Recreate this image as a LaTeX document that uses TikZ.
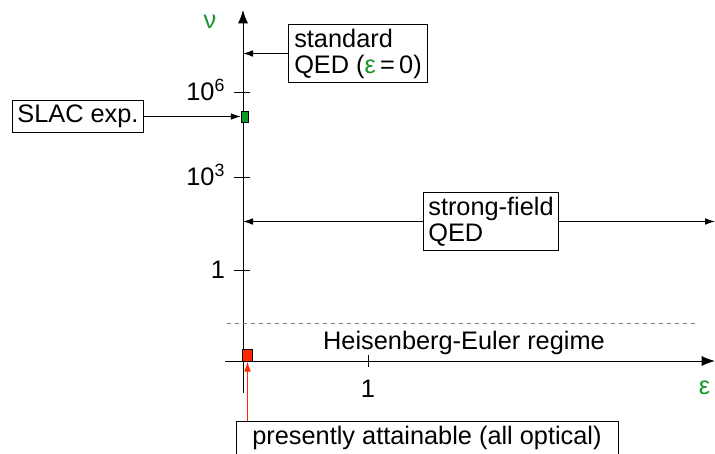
\documentclass[tikz,border=0pt]{standalone}
\usepackage{fontspec}
\setmainfont{Liberation Sans}
\usetikzlibrary{arrows.meta,positioning}
\definecolor{qedgreen}{RGB}{20,150,40}
\definecolor{optred}{RGB}{255,40,0}

\begin{document}
\begin{tikzpicture}[x=0.75pt,y=-0.75pt,line width=0.75pt]
    \tikzset{block/.style= {draw, rectangle
    , align=left
    , inner xsep=4pt
    , inner ysep=3.5pt
    , font=\fontsize{19}{19.5}\selectfont
      }
    }
    \tikzset{lbl/.style={font=\fontsize{19}{19.5}\selectfont}}
    \tikzset{axis/.style={-{Latex[length=10pt,width=7.5pt]}}}
    \tikzset{pointer/.style={-{Latex[length=7.5pt,width=5pt]}}}
\useasboundingbox (0,0) rectangle (715,454);

% axes
\coordinate (vbot) at (243,393);
\coordinate (vtop) at (243,10);
\coordinate (hleft) at (225,361);
\coordinate (hright) at (715,361);
\draw[axis] (vbot) -- (vtop);
\draw[axis] (hleft) -- (hright);
\node [lbl,text=qedgreen] (nu) at (210,22) {ν};
\node [lbl,text=qedgreen,anchor=west] (eps) at (694,388) {ε};

% ticks
\draw (234,92) -- (250,92);
\draw (234,177) -- (250,177);
\draw (234,270) -- (250,270);
\draw (368,355) -- (368,367);
\node [lbl,anchor=base east] (t6) at (230,100) {10\textsuperscript{6}};
\node [lbl,anchor=base east] (t3) at (230,185) {10\textsuperscript{3}};
\node [lbl,anchor=base east] (t0) at (230,278) {1};
\node [lbl,anchor=base] (e1) at (368,397) {1};

% regimes
\draw[dashed,gray] (227,323) -- (695,323);
\node [lbl] (he) at (464,343) {Heisenberg-Euler regime};

\node [draw,fill=qedgreen,minimum width=5pt,minimum height=8pt,inner sep=0pt,line width=0.5pt] (slacbar) at (244.5,116.5) {};
\node [draw,fill=optred,minimum width=8pt,minimum height=9pt,inner sep=0pt] (optical) at (247.5,355) {};

\node [block] (slac) at (78,116.5) {SLAC exp.};
\node [block] (std) at (358,53.5) {standard\\QED (\textcolor{qedgreen}{ε}\,=\,0)};
\node [block] (sf) at (491,221.5) {strong-field\\QED};
\node [block,anchor=north,align=center,minimum width=286.5pt] (present) at (427,421) {presently attainable (all optical)};

 \path[draw, pointer] (slac) -- (slacbar);
 \path[draw, pointer] (std.west) -- (std.west -| vtop);
 \path[draw, pointer] (sf.west) -- (sf.west -| vtop);
 \path[draw, pointer] (sf.east) -- (sf.east -| hright);
 \path[draw, pointer, optred] (optical.south |- present.north) -- (optical.south);
\end{tikzpicture}
\end{document}
